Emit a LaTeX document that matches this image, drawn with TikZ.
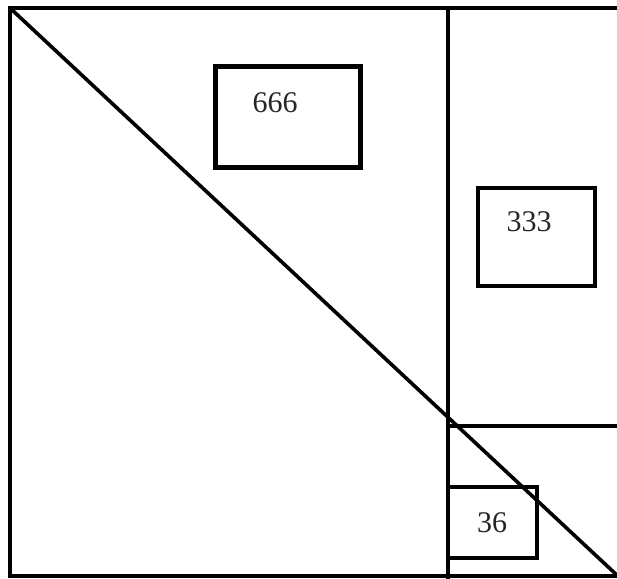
\documentclass[tikz,border=0pt]{standalone}
\usepackage{fontspec}
\setmainfont{Liberation Serif}
\begin{document}
\begin{tikzpicture}[x=1pt,y=1pt,
  box/.style={draw=black,fill=none,inner sep=0pt,line width=3.2pt},
  num/.style={font=\fontsize{30}{30}\selectfont,text=black!85,inner sep=0pt},
  edge/.style={line width=3.2pt,black}]
\useasboundingbox (0,0) rectangle (617,578);
\clip (0,0) rectangle (617,578);
% outer frame
\coordinate (tl) at (10,570);
\coordinate (bl) at (10,2);
\coordinate (trr) at (630,570);
\coordinate (brr) at (630,2);
\draw[edge,line width=3.6pt] (trr) -- (tl) -- (bl) -- (brr);
% partition lines
\coordinate (vt) at (448,570);
\coordinate (vb) at (448,-5);
\draw[edge] (vt) -- (vb);
\coordinate (hl) at (448,152);
\coordinate (hr) at (630,152);
\draw[edge] (hl) -- (hr);
% diagonal
\coordinate (dend) at (620,0);
\draw[edge,line width=3.6pt] (tl) -- (dend);
% boxes
\node[box,line width=5pt,minimum width=145,minimum height=101] (b666) at (287.5,460.5) {};
\node[num] (t666) at (275,475) {666};
\node[box,line width=3.4pt,minimum width=117,minimum height=98] (b333) at (536.5,341) {};
\node[num] (t333) at (529,356) {333};
\node[box,minimum width=89,minimum height=71] (b36) at (492.5,55.5) {};
\node[num] (t36) at (492,55) {36};
\end{tikzpicture}
\end{document}
